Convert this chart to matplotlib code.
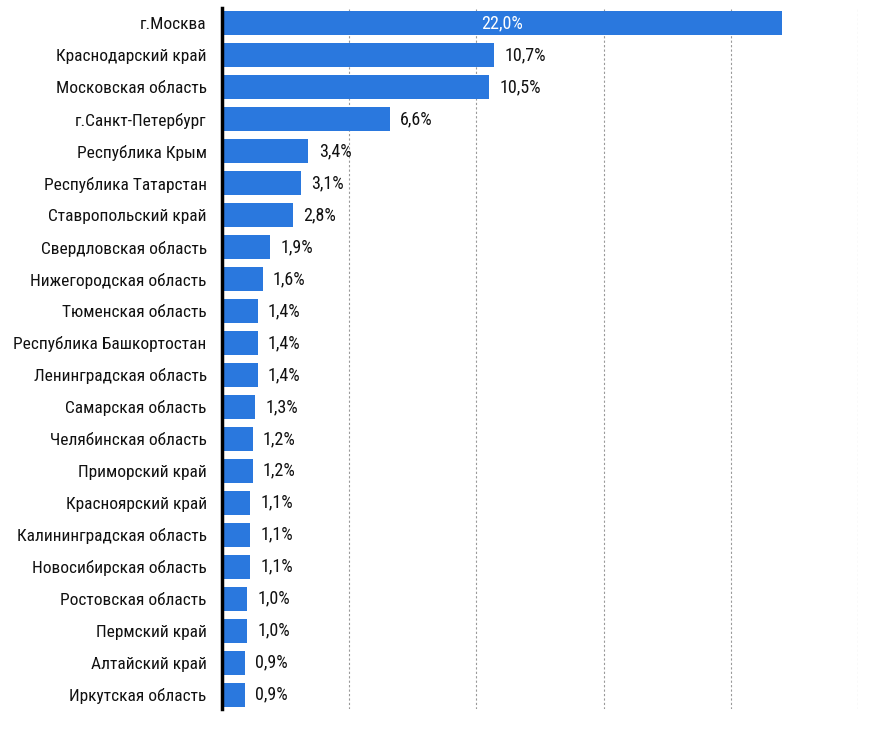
import matplotlib
matplotlib.use("Agg")
import matplotlib.pyplot as plt

regions = [
    "г.Москва", "Краснодарский край", "Московская область", "г.Санкт-Петербург",
    "Республика Крым", "Республика Татарстан", "Ставропольский край",
    "Свердловская область", "Нижегородская область", "Тюменская область",
    "Республика Башкортостан", "Ленинградская область", "Самарская область",
    "Челябинская область", "Приморский край", "Красноярский край",
    "Калининградская область", "Новосибирская область", "Ростовская область",
    "Пермский край", "Алтайский край", "Иркутская область",
]
shares = [22.0, 10.7, 10.5, 6.6, 3.4, 3.1, 2.8, 1.9, 1.6, 1.4, 1.4, 1.4,
          1.3, 1.2, 1.2, 1.1, 1.1, 1.1, 1.0, 1.0, 0.9, 0.9]

plt.rcParams['font.family'] = ['Roboto Condensed', 'PT Sans Narrow', 'DejaVu Sans']

fig = plt.figure(figsize=(8.88, 7.33), dpi=100)
ax = fig.add_axes([222 / 888, 24 / 733, 636 / 888, 701 / 733])

pos = list(range(len(regions)))
ax.barh(pos, shares, height=0.75, color="#2a78de", zorder=2)

for i, v in zip(pos, shares):
    txt = f"{v:.1f}%".replace(".", ",")
    if v > 15:
        ax.text(v / 2, i, txt, ha="center", va="center", color="white", fontsize=13, zorder=3)
    else:
        ax.text(v + 0.4, i, txt, ha="left", va="center", color="#111111", fontsize=13, zorder=3)

ax.set_yticks(pos)
ax.set_yticklabels(regions, fontsize=12.5, color="#111111")
ax.tick_params(axis="y", length=0, pad=11)
ax.tick_params(axis="x", length=0, labelbottom=False)
ax.set_xlim(0, 25)
ax.set_ylim(21.45, -0.48)
ax.set_xticks([5, 10, 15, 20, 25])
ax.grid(axis="x", color="#999999", linestyle=(0, (2, 2)), linewidth=0.8, zorder=0)

for s in ["top", "right", "bottom"]:
    ax.spines[s].set_visible(False)
ax.spines["left"].set_linewidth(2.5)
ax.spines["left"].set_color("black")
ax.spines["left"].set_zorder(4)

fig.savefig("out.png", dpi=100)
